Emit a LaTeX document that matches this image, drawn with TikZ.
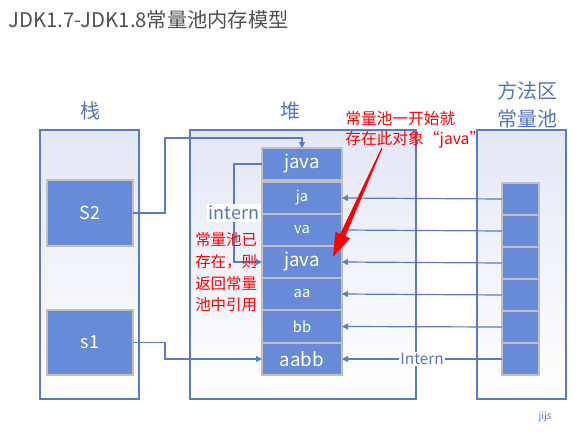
\documentclass[tikz,border=0pt]{standalone}
\usepackage{fontspec}
\setmainfont{Noto Sans CJK SC}
\usetikzlibrary{arrows.meta,calc}
\definecolor{lineblue}{RGB}{88,122,200}
\definecolor{cellblue}{RGB}{104,139,216}
\definecolor{labelblue}{RGB}{84,118,190}
\definecolor{titlegray}{RGB}{80,80,80}
\definecolor{bgtop}{RGB}{228,231,246}
\definecolor{cellborder}{RGB}{192,192,192}
\begin{document}
\begin{tikzpicture}[x=0.75pt,y=-0.75pt,
  container/.style={draw=lineblue,line width=1pt,inner sep=0pt,outer sep=0pt,top color=bgtop,bottom color=white},
  cellbox/.style={fill=cellblue,draw=cellborder,line width=1pt,inner sep=0pt,outer sep=0pt,text=white},
  bigtxt/.style={font=\fontsize{14pt}{16pt}\selectfont},
  smalltxt/.style={font=\fontsize{11pt}{13pt}\selectfont},
  heapcell/.style={cellbox,minimum width=80*0.75pt,minimum height=32*0.75pt},
  poolcell/.style={cellbox,minimum width=37*0.75pt,minimum height=32*0.75pt},
  conn/.style={draw=lineblue,line width=0.9pt},
  arr/.style={conn,-{Triangle[length=4.5pt,width=4.5pt]}},
  areatitle/.style={text=labelblue,font=\fontsize{15pt}{21pt}\selectfont,align=center,inner sep=0pt},
  redtxt/.style={text=red,align=left,inner sep=0pt,anchor=west}
]
\useasboundingbox (0,0) rectangle (584,446);
\fill[white] (0,0) rectangle (584,446);

% title
\node[anchor=west,inner sep=0pt,text=titlegray,font=\fontsize{15.2pt}{18pt}\selectfont] (title) at (8,20) {JDK1.7-JDK1.8常量池内存模型};

% containers
\node[container,minimum width=99*0.75pt,minimum height=269*0.75pt] (stack) at (89.5,264.5) {};
\node[container,minimum width=226*0.75pt,minimum height=269*0.75pt] (heap) at (303,264.5) {};
\node[container,minimum width=89*0.75pt,minimum height=269*0.75pt] (method) at (521.5,264.5) {};

% area titles
\node[areatitle] (lstack) at (90,111) {栈};
\node[areatitle] (lheap) at (290,111) {堆};
\node[areatitle] (lmethod) at (527,105) {方法区\\常量池};

% stack cells
\node[cellbox,minimum width=86*0.75pt,minimum height=66*0.75pt,font=\fontsize{13.5pt}{16pt}\selectfont] (S2) at (90,213) {S2};
\node[cellbox,minimum width=86*0.75pt,minimum height=65*0.75pt,font=\fontsize{13.5pt}{16pt}\selectfont] (s1) at (90,342.5) {s1};

% heap cells
\node[heapcell,bigtxt] (hjava0) at (302,164) {java};
\node[heapcell,smalltxt] (hja) at (302,198) {ja};
\node[heapcell,smalltxt] (hva) at (302,230) {va};
\node[heapcell,bigtxt] (hjava) at (302,262) {java};
\node[heapcell,smalltxt] (haa) at (302,294) {aa};
\node[heapcell,smalltxt] (hbb) at (302,326.5) {bb};
\node[heapcell,bigtxt] (haabb) at (302,359) {aabb};

% pool cells
\node[poolcell] (p1) at (520.5,199) {};
\node[poolcell] (p2) at (520.5,231) {};
\node[poolcell] (p3) at (520.5,263) {};
\node[poolcell] (p4) at (520.5,295) {};
\node[poolcell] (p5) at (520.5,327) {};
\node[poolcell] (p6) at (520.5,359) {};

% connectors from stack
\draw[arr] (S2.east) -- ++(32,0) |- ($(hjava0.north)+(0,-10)$) -- (hjava0.north);
\draw[arr] (s1.east) -- ++(32,0) |- (haabb.west);

% intern loop
\draw[arr] (hjava0.west) -- ++(-28,0) |- (hjava.west);
\node[fill=white,text=labelblue,font=\fontsize{13.5pt}{16pt}\selectfont,inner sep=1.5pt] (lintern) at (234,213) {intern};

% pool to heap
\draw[arr] (p1.west) -- (hja.east);
\draw[conn] (p2.west) -- (hva.east);
\draw[arr] (p3.west) -- (hjava.east);
\draw[arr] (p4.west) -- (haa.east);
\draw[arr] (p5.west) -- (hbb.east);
\draw[arr] (p6.west) -- (haabb.east);
\node[fill=white,text=labelblue,font=\fontsize{11.5pt}{14pt}\selectfont,inner sep=1pt] (lIntern) at (422,359) {Intern};

% red notes
\node[redtxt,font=\fontsize{11.8pt}{15pt}\selectfont] (note1) at (345,130) {常量池一开始就\\存在此对象“java”};
\node[redtxt,font=\fontsize{11.6pt}{16.3pt}\selectfont] (note2) at (195,272.5) {常量池已\\存在，则\\返回常量\\池中引用};

% red arrow
\fill[red] (382.5,148.2) -- (345.4,236.2) -- (350.1,238.4) -- (333,257) -- (335.5,231.8) -- (340.2,233.9) -- (381.5,147.8) -- cycle;

% signature
\node[text=labelblue,font=\fontsize{7.5pt}{9pt}\selectfont,inner sep=0pt] (sig) at (545,417) {jijs};
\end{tikzpicture}
\end{document}
